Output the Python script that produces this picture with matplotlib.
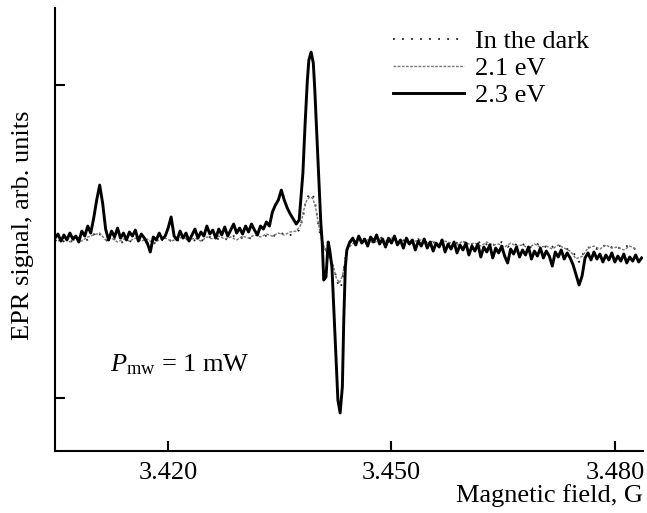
import matplotlib
matplotlib.use("Agg")
import matplotlib.pyplot as plt
import numpy as np

plt.rcParams['font.family'] = ['Liberation Serif', 'DejaVu Serif']
plt.rcParams['mathtext.fontset'] = 'custom'
plt.rcParams['mathtext.rm'] = 'Liberation Serif'
plt.rcParams['mathtext.it'] = 'Liberation Serif:italic'

# ---------------- data (magnetic field in G, EPR signal in arb. units) -------------
field_23_left = [
    3.4048, 3.4052, 3.4056, 3.4060, 3.4064, 3.4068, 3.4072, 3.4076, 3.4080, 3.4084,
    3.4088, 3.4092, 3.4096, 3.4100, 3.4104, 3.4108, 3.4112, 3.4116, 3.4120, 3.4124,
    3.4128, 3.4132, 3.4136, 3.4140, 3.4144, 3.4148, 3.4152, 3.4156, 3.4160, 3.4164,
    3.4168, 3.4172, 3.4176, 3.4180, 3.4184, 3.4188, 3.4192, 3.4196, 3.4200, 3.4204,
    3.4208, 3.4212, 3.4216, 3.4220, 3.4224, 3.4228, 3.4232, 3.4236, 3.4240, 3.4244,
    3.4248, 3.4252, 3.4256, 3.4260, 3.4264, 3.4268, 3.4272, 3.4276, 3.4280, 3.4284,
    3.4288, 3.4292, 3.4296, 3.4300, 3.4304, 3.4308, 3.4312, 3.4316, 3.4320, 3.4324,
    3.4328, 3.4332, 3.4336, 3.4340, 3.4344, 3.4348, 3.4352, 3.4356, 3.4360, 3.4364,
    3.4368, 3.4372, 3.4376]
signal_23_left = [
    0.022, 0.048, 0.003, 0.042, 0.010, 0.054, 0.016, 0.035, -0.003, 0.067,
    0.035, 0.099, 0.054, 0.150, 0.265, 0.361, 0.246, 0.080, 0.010, 0.067,
    0.029, 0.086, 0.022, 0.054, 0.010, 0.061, 0.035, 0.073, 0.003, 0.048,
    0.022, -0.010, -0.067, 0.029, 0.010, 0.054, 0.016, 0.035, 0.086, 0.157,
    0.035, 0.010, 0.067, 0.022, 0.054, 0.003, 0.042, 0.080, 0.022, 0.061,
    0.035, 0.099, 0.048, 0.073, 0.022, 0.080, 0.042, 0.093, 0.035, 0.073,
    0.112, 0.054, 0.086, 0.048, 0.099, 0.061, 0.112, 0.073, 0.042, 0.099,
    0.080, 0.125, 0.099, 0.188, 0.233, 0.265, 0.329, 0.265, 0.214, 0.176,
    0.144, 0.112, 0.137]
field_23_mid = [3.4381, 3.4384, 3.4387, 3.4389, 3.4392, 3.4395, 3.4397, 3.4400,
                3.4403, 3.4405, 3.4407, 3.4409, 3.4412, 3.4415, 3.4417, 3.4420,
                3.4424, 3.4428, 3.4431, 3.4434, 3.4436, 3.4438, 3.4440, 3.4444]
signal_23_mid = [0.438, 0.757, 1.032, 1.160, 1.211, 1.141, 0.968, 0.649,
                 0.329, 0.125, -0.010, -0.246, -0.227, -0.003, -0.054, -0.163,
                 -0.585, -1.013, -1.096, -0.930, -0.482, -0.163, -0.054, -0.003]
field_23_right = [
    3.4448, 3.4452, 3.4456, 3.4460, 3.4464, 3.4468, 3.4472, 3.4476, 3.4480, 3.4484,
    3.4488, 3.4492, 3.4496, 3.4500, 3.4504, 3.4508, 3.4512, 3.4516, 3.4520, 3.4524,
    3.4528, 3.4532, 3.4536, 3.4540, 3.4544, 3.4548, 3.4552, 3.4556, 3.4560, 3.4564,
    3.4568, 3.4572, 3.4576, 3.4580, 3.4584, 3.4588, 3.4592, 3.4596, 3.4600, 3.4604,
    3.4608, 3.4612, 3.4616, 3.4620, 3.4624, 3.4628, 3.4632, 3.4636, 3.4640, 3.4644,
    3.4648, 3.4652, 3.4656, 3.4660, 3.4664, 3.4668, 3.4672, 3.4676, 3.4680, 3.4684,
    3.4688, 3.4692, 3.4696, 3.4700, 3.4704, 3.4708, 3.4712, 3.4716, 3.4720, 3.4724,
    3.4728, 3.4732, 3.4736, 3.4740, 3.4744, 3.4748, 3.4752, 3.4756, 3.4760, 3.4764,
    3.4768, 3.4772, 3.4776, 3.4780, 3.4784, 3.4788, 3.4792, 3.4796, 3.4800, 3.4804,
    3.4808, 3.4812, 3.4816, 3.4820, 3.4824, 3.4828, 3.4832, 3.4836]
signal_23_right = [
    0.022, -0.022, 0.035, -0.010, 0.016, -0.029, 0.029, -0.003, 0.042, -0.016,
    0.016, -0.035, 0.022, -0.010, 0.035, -0.022, 0.010, -0.042, 0.022, -0.016,
    0.010, -0.054, 0.003, -0.029, 0.016, -0.042, -0.003, -0.061, -0.010, -0.035,
    0.010, -0.067, -0.016, -0.048, -0.003, -0.073, -0.022, -0.054, -0.010, -0.086,
    -0.029, -0.061, -0.016, -0.099, -0.035, -0.067, -0.022, -0.105, -0.042, -0.073,
    -0.029, -0.093, -0.137, -0.048, -0.080, -0.035, -0.099, -0.054, -0.086, -0.035,
    -0.112, -0.061, -0.093, -0.042, -0.105, -0.061, -0.093, -0.157, -0.067, -0.099,
    -0.054, -0.112, -0.073, -0.105, -0.150, -0.214, -0.278, -0.220, -0.105, -0.073,
    -0.118, -0.067, -0.112, -0.080, -0.131, -0.086, -0.118, -0.073, -0.131, -0.093,
    -0.125, -0.080, -0.137, -0.099, -0.125, -0.086, -0.131, -0.105]

field_dark_left = [
    3.4048, 3.4056, 3.4064, 3.4072, 3.4080, 3.4088, 3.4096, 3.4104, 3.4112, 3.4120,
    3.4128, 3.4136, 3.4144, 3.4152, 3.4160, 3.4168, 3.4176, 3.4184, 3.4192, 3.4200,
    3.4208, 3.4216, 3.4224, 3.4232, 3.4240, 3.4248, 3.4256, 3.4264, 3.4272, 3.4280,
    3.4288, 3.4296, 3.4304, 3.4312, 3.4320, 3.4328, 3.4336, 3.4344, 3.4352, 3.4360,
    3.4368, 3.4376]
signal_dark_left = [
    0.010, -0.010, 0.016, -0.003, 0.022, 0.003, 0.022, 0.067, 0.029, -0.003,
    0.016, -0.010, 0.010, -0.003, 0.016, -0.010, 0.003, -0.016, 0.010, -0.003,
    0.022, 0.003, 0.016, -0.003, 0.022, 0.003, 0.029, 0.010, 0.029, 0.010,
    0.035, 0.016, 0.035, 0.016, 0.042, 0.029, 0.048, 0.035, 0.054, 0.035,
    0.048, 0.073]
field_dark_mid = [3.4381, 3.4385, 3.4389, 3.4393, 3.4397, 3.4401, 3.4405, 3.4409,
                  3.4413, 3.4417, 3.4420, 3.4425, 3.4429, 3.4432, 3.4435, 3.4438, 3.4442]
signal_dark_mid = [0.150, 0.265, 0.297, 0.310, 0.265, 0.125, 0.022, -0.022,
                   -0.073, -0.105, -0.137, -0.214, -0.284, -0.297, -0.214, -0.105, -0.022]
field_dark_right = [
    3.4448, 3.4456, 3.4464, 3.4472, 3.4480, 3.4488, 3.4496, 3.4504, 3.4512, 3.4520,
    3.4528, 3.4536, 3.4544, 3.4552, 3.4560, 3.4568, 3.4576, 3.4584, 3.4592, 3.4600,
    3.4608, 3.4616, 3.4624, 3.4632, 3.4640, 3.4648, 3.4656, 3.4664, 3.4672, 3.4680,
    3.4688, 3.4696, 3.4704, 3.4712, 3.4720, 3.4728, 3.4736, 3.4744, 3.4752, 3.4760,
    3.4768, 3.4776, 3.4784, 3.4792, 3.4800, 3.4808, 3.4816, 3.4824, 3.4832]
signal_dark_right = [
    0.010, 0.029, -0.003, 0.022, 0.003, 0.029, -0.003, 0.022, -0.003, 0.016,
    -0.010, 0.016, -0.010, 0.010, -0.016, 0.010, -0.016, 0.003, -0.022, 0.003,
    -0.022, 0.003, -0.029, -0.003, -0.029, -0.003, -0.035, -0.010, -0.035, -0.010,
    -0.042, -0.016, -0.042, -0.016, -0.048, -0.022, -0.048, -0.067, -0.131, -0.054,
    -0.029, -0.048, -0.022, -0.048, -0.022, -0.048, -0.029, -0.054, -0.029]

field_21_left = [
    3.4052, 3.4060, 3.4068, 3.4076, 3.4084, 3.4092, 3.4100, 3.4108, 3.4116, 3.4124,
    3.4132, 3.4140, 3.4148, 3.4156, 3.4164, 3.4172, 3.4180, 3.4188, 3.4196, 3.4204,
    3.4212, 3.4220, 3.4228, 3.4236, 3.4244, 3.4252, 3.4260, 3.4268, 3.4276, 3.4284,
    3.4292, 3.4300, 3.4308, 3.4316, 3.4324, 3.4332, 3.4340, 3.4348, 3.4356, 3.4364,
    3.4372]
signal_21_left = [
    0.003, 0.022, -0.003, 0.016, 0.003, 0.029, 0.042, 0.054, 0.010, 0.022,
    -0.003, 0.016, 0.003, 0.022, 0.003, 0.016, -0.010, 0.010, 0.022, 0.003,
    0.016, 0.029, 0.010, 0.022, 0.003, 0.029, 0.016, 0.035, 0.016, 0.029,
    0.010, 0.035, 0.022, 0.042, 0.029, 0.048, 0.035, 0.054, 0.042, 0.061,
    0.067]
field_21_mid = [3.4378, 3.4382, 3.4386, 3.4390, 3.4394, 3.4398, 3.4402, 3.4406,
                3.4410, 3.4414, 3.4418, 3.4422, 3.4426, 3.4430, 3.4434, 3.4438, 3.4442]
signal_21_mid = [0.105, 0.200, 0.262, 0.285, 0.278, 0.220, 0.110, 0.020,
                 -0.040, -0.085, -0.110, -0.160, -0.235, -0.265, -0.220, -0.120, -0.040]
field_21_right = [
    3.4452, 3.4460, 3.4468, 3.4476, 3.4484, 3.4492, 3.4500, 3.4508, 3.4516, 3.4524,
    3.4532, 3.4540, 3.4548, 3.4556, 3.4564, 3.4572, 3.4580, 3.4588, 3.4596, 3.4604,
    3.4612, 3.4620, 3.4628, 3.4636, 3.4644, 3.4652, 3.4660, 3.4668, 3.4676, 3.4684,
    3.4692, 3.4700, 3.4708, 3.4716, 3.4724, 3.4732, 3.4740, 3.4748, 3.4756, 3.4764,
    3.4772, 3.4780, 3.4788, 3.4796, 3.4804, 3.4812, 3.4820, 3.4828]
signal_21_right = [
    0.003, 0.022, 0.010, -0.010, 0.016, 0.003, 0.022, -0.003, 0.010, -0.016,
    0.003, 0.010, -0.010, 0.003, -0.022, 0.003, -0.010, -0.022, 0.003, -0.016,
    -0.010, -0.029, -0.003, -0.022, -0.016, -0.035, -0.010, -0.029, -0.022, -0.042,
    -0.016, -0.035, -0.029, -0.048, -0.022, -0.042, -0.061, -0.110, -0.095, -0.042,
    -0.029, -0.048, -0.022, -0.042, -0.035, -0.054, -0.029, -0.048]

x_ticks = [3.420, 3.450, 3.480]
x_tick_labels = ['3.420', '3.450', '3.480']
y_ticks = [-1.0, 1.0]
labels = ['In the dark', '2.1 eV', '2.3 eV']

# ---------------- figure ----------------
fig = plt.figure(figsize=(6.47, 5.13), dpi=100)
ax = fig.add_axes([0.085, 0.121, 0.909, 0.863])

f_dark = field_dark_left + field_dark_mid + field_dark_right
s_dark = signal_dark_left + signal_dark_mid + signal_dark_right
f_21 = field_21_left + field_21_mid + field_21_right
s_21 = signal_21_left + signal_21_mid + signal_21_right
f_23 = field_23_left + field_23_mid + field_23_right
s_23 = signal_23_left + signal_23_mid + signal_23_right

ax.plot(f_dark, s_dark, color='#222222', lw=1.3, linestyle=(0, (1, 4)),
        label=labels[0], zorder=2)
ax.plot(f_21, s_21, color='#777777', lw=1.0, linestyle=(0, (2, 1)),
        label=labels[1], zorder=2)
ax.plot(f_23, s_23, color='black', lw=2.1, label=labels[2], zorder=3,
        solid_joinstyle='round')

ax.set_xlim(3.4048, 3.4838)
ax.set_ylim(-1.339, 1.492)

ax.spines['top'].set_visible(False)
ax.spines['right'].set_visible(False)
for s in ['left', 'bottom']:
    ax.spines[s].set_linewidth(1.5)

ax.set_xticks(x_ticks)
ax.set_xticklabels(x_tick_labels)
ax.set_yticks(y_ticks)
ax.set_yticklabels([])
ax.tick_params(axis='both', direction='in', length=7, width=1.5, labelsize=19)
ax.tick_params(axis='x', pad=8)

ax.set_xlabel('Magnetic field, G', fontsize=19, ha='right')
ax.xaxis.set_label_coords(1.0, -0.075)
ax.set_ylabel('EPR signal, arb. units', fontsize=19)
ax.yaxis.set_label_coords(-0.035, 0.51)

ax.text(0.094, 0.194, r'$P_{\mathrm{mw}}$ = 1 mW', transform=ax.transAxes,
        fontsize=19, va='center', ha='left')

leg = ax.legend(loc='upper left', bbox_to_anchor=(0.575, 0.951), frameon=False,
                fontsize=19, handlelength=2.7, handletextpad=0.4,
                labelspacing=0.13, borderpad=0, borderaxespad=0)

fig.savefig('out.png', dpi=100)
